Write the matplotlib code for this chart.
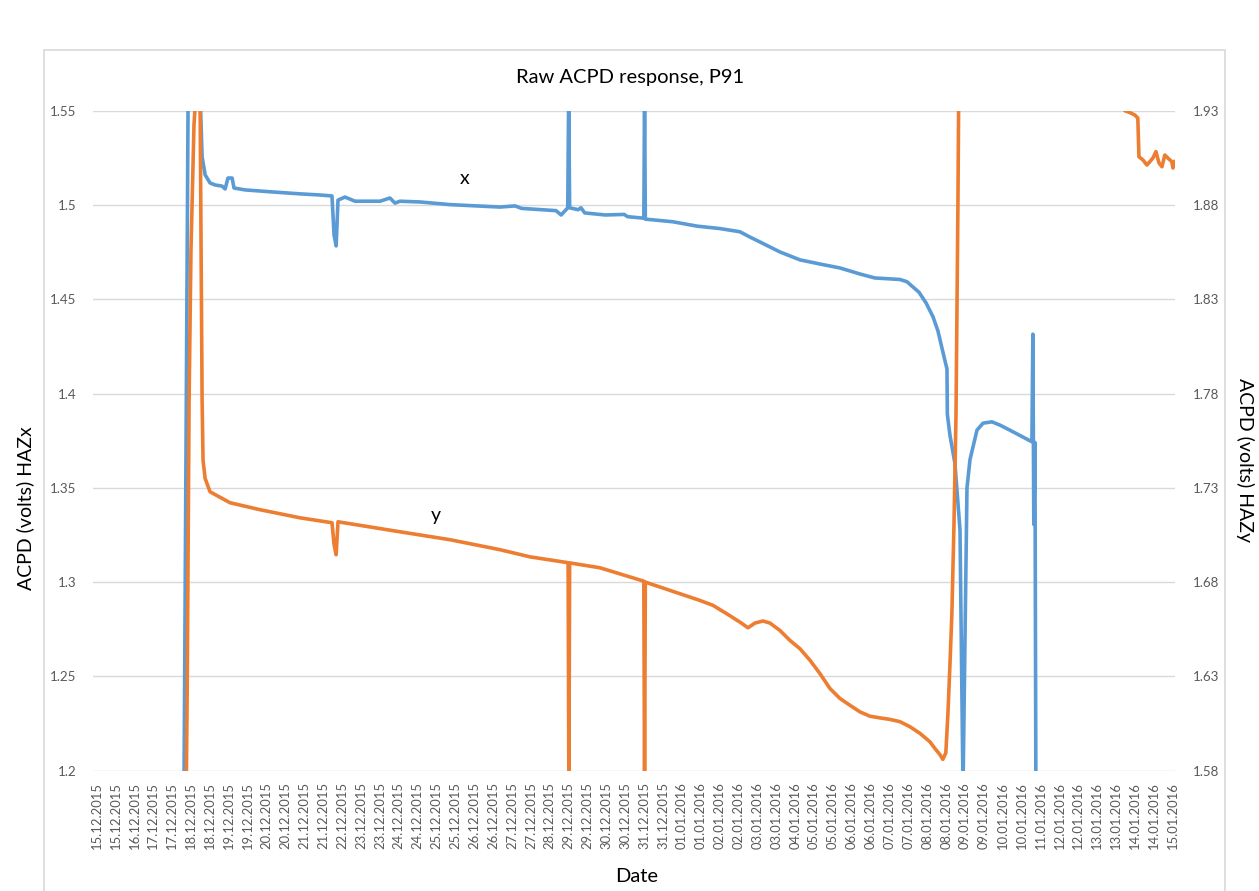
import numpy as np
import matplotlib
matplotlib.use("Agg")
import matplotlib.pyplot as plt
from matplotlib.patches import Rectangle

plt.rcParams['font.family'] = ['Lato', 'DejaVu Sans']

# category labels along the x axis (one per tick)
date_labels = ["15.12.2015", "15.12.2015", "16.12.2015", "17.12.2015", "17.12.2015",
               "18.12.2015", "18.12.2015", "19.12.2015", "19.12.2015", "20.12.2015",
               "20.12.2015", "21.12.2015", "21.12.2015", "22.12.2015", "23.12.2015",
               "23.12.2015", "24.12.2015", "24.12.2015", "25.12.2015", "25.12.2015",
               "26.12.2015", "26.12.2015", "27.12.2015", "27.12.2015", "28.12.2015",
               "29.12.2015", "29.12.2015", "30.12.2015", "30.12.2015", "31.12.2015",
               "31.12.2015", "01.01.2016", "01.01.2016", "02.01.2016", "02.01.2016",
               "03.01.2016", "03.01.2016", "04.01.2016", "05.01.2016", "05.01.2016",
               "06.01.2016", "06.01.2016", "07.01.2016", "07.01.2016", "08.01.2016",
               "08.01.2016", "09.01.2016", "09.01.2016", "10.01.2016", "10.01.2016",
               "11.01.2016", "12.01.2016", "12.01.2016", "13.01.2016", "13.01.2016",
               "14.01.2016", "14.01.2016", "15.01.2016"]

# HAZx (left axis), x in label-index units
x_pos = [4.62, 4.84, 5.47, 5.58, 5.68, 5.74, 6.00, 6.27, 6.64, 6.80, 6.95, 7.17, 7.27,
         7.85, 9.18, 10.77, 11.83, 12.46, 12.57, 12.68, 12.78, 13.15, 13.68, 15.01,
         15.53, 15.80, 16.06, 17.12, 18.71, 21.36, 22.16, 22.50, 24.33, 24.60, 24.95,
         25.00, 25.05, 25.50, 25.65, 25.85, 26.94, 27.94, 28.12, 28.98, 29.02, 29.06,
         30.52, 31.79, 33.01, 34.07, 34.60, 35.13, 36.19, 37.25, 38.31, 39.37, 40.43,
         41.22, 42.55, 42.92, 43.56, 43.93, 44.30, 44.56, 44.82, 45.04, 45.06, 45.20,
         45.46, 45.73, 45.89, 46.10, 46.26, 46.63, 46.95, 47.42, 47.84, 48.37, 48.90,
         49.43, 49.54, 49.59, 49.64, 49.70, 49.75]
x_val = [1.19, 1.56, 1.56, 1.5255, 1.5196, 1.516, 1.5117, 1.5106, 1.5100, 1.5085, 1.5143,
         1.5143, 1.509, 1.508, 1.507, 1.5059, 1.5053, 1.5048, 1.4841, 1.4783, 1.5026,
         1.5042, 1.502, 1.502, 1.5037, 1.501, 1.502, 1.5016, 1.5002, 1.4989, 1.4995,
         1.4982, 1.497, 1.4947, 1.4985, 1.56, 1.4985, 1.4975, 1.4985, 1.4958, 1.4947,
         1.4950, 1.4938, 1.4930, 1.56, 1.4925, 1.4911, 1.4888, 1.4875, 1.4858, 1.4830,
         1.4804, 1.4751, 1.4709, 1.4687, 1.4666, 1.4634, 1.4613, 1.4605, 1.4593, 1.4537,
         1.4481, 1.4407, 1.4333, 1.4222, 1.4130, 1.3890, 1.3778, 1.3630, 1.3278, 1.19,
         1.3500, 1.3650, 1.3806, 1.3843, 1.3850, 1.3833, 1.3806, 1.3778, 1.3750, 1.3745,
         1.4315, 1.3306, 1.3740, 1.19]

# HAZy (right axis)
y_pos = [4.74, 4.79, 4.89, 4.99, 5.15, 5.26, 5.47, 5.58, 5.63, 5.74, 6.00, 7.06, 8.65,
         10.77, 12.46, 12.57, 12.68, 12.78, 16.06, 18.71, 21.36, 22.95, 24.97, 25.01,
         25.05, 26.66, 28.98, 29.02, 29.06, 31.95, 32.64, 33.38, 34.07, 34.50, 34.87,
         35.29, 35.66, 36.19, 36.72, 37.25, 37.78, 38.31, 38.84, 39.37, 39.90, 40.43,
         40.96, 41.49, 42.02, 42.55, 43.08, 43.61, 44.14, 44.40, 44.67, 44.82, 44.98,
         45.09, 45.20, 45.30, 45.41, 45.52, 45.62, 45.67, 54.20, 54.46, 54.73, 54.99,
         55.15, 55.21, 55.42, 55.63, 55.79, 55.95, 56.11, 56.27, 56.43, 56.58, 56.74,
         56.95, 57.01, 57.11]
y_val = [1.57, 1.6226, 1.7764, 1.856, 1.9224, 1.94, 1.94, 1.7764, 1.7446, 1.735, 1.7279,
         1.7221, 1.7184, 1.7141, 1.7115, 1.700, 1.6945, 1.712, 1.7067, 1.7025, 1.6972,
         1.6934, 1.6903, 1.57, 1.6902, 1.6876, 1.6805, 1.57, 1.680, 1.6703, 1.6677,
         1.6632, 1.6588, 1.6558, 1.6583, 1.6594, 1.6583, 1.6544, 1.6491, 1.6447, 1.6386,
         1.6315, 1.6236, 1.6183, 1.6147, 1.6112, 1.6089, 1.6080, 1.6072, 1.6060, 1.6033,
         1.5998, 1.5953, 1.5918, 1.5885, 1.5860, 1.5895, 1.6103, 1.6368, 1.6632, 1.710,
         1.770, 1.880, 1.95, 1.95, 1.930, 1.929, 1.9277, 1.9261, 1.9056, 1.9039, 1.9012,
         1.9030, 1.9049, 1.9083, 1.9023, 1.9003, 1.9065, 1.9049, 1.9030, 1.8996, 1.9030]

left_ticks = [1.2, 1.25, 1.3, 1.35, 1.4, 1.45, 1.5, 1.55]
right_ticks = [1.58, 1.63, 1.68, 1.73, 1.78, 1.83, 1.88, 1.93]

W, H = 1259, 891
fig = plt.figure(figsize=(W / 100, H / 100), dpi=100)
ax = fig.add_axes([93 / W, 1 - 770.7 / H, (1175 - 93) / W, 660 / H])
ax2 = ax.twinx()

ax.plot(x_pos, x_val, color='#5B9BD5', lw=2.6, solid_joinstyle='round')
ax2.plot(y_pos, y_val, color='#ED7D31', lw=2.6, solid_joinstyle='round')

ax.set_xlim(-0.2, 57.12)
ax.set_ylim(1.2, 1.55)
ax2.set_ylim(1.58, 1.93)

ax.set_yticks(left_ticks)
ax.set_yticklabels([f"{v:g}" for v in left_ticks])
ax2.set_yticks(right_ticks)
ax2.set_yticklabels([f"{v:g}" for v in right_ticks])
ax.set_xticks(range(len(date_labels)))
ax.set_xticklabels(date_labels, rotation=90)

ax.yaxis.grid(True, color='#d9d9d9', lw=1)
ax.set_axisbelow(True)
for a in (ax, ax2):
    for s in a.spines.values():
        s.set_visible(False)
ax.tick_params(axis='y', length=0, pad=12, labelsize=9.6, labelcolor='#595959')
ax2.tick_params(axis='y', length=0, pad=13, labelsize=9.6, labelcolor='#595959')
ax.tick_params(axis='x', length=0, pad=8, labelsize=9.4, labelcolor='#595959')

ax.text(19.5, 1.5143, "x", fontsize=14, ha='center', va='center')
ax.text(17.97, 1.3352, "y", fontsize=14, ha='center', va='center')

fig.text(630 / W, 1 - 77 / H, "Raw ACPD response, P91", fontsize=14.5, ha='center', va='center')
fig.text(637 / W, 1 - 877 / H, "Date", fontsize=14.5, ha='center', va='center')
fig.text(25 / W, 1 - 508 / H, "ACPD (volts) HAZx", fontsize=14, rotation=90,
         ha='center', va='center')
fig.text(1245 / W, 1 - 460 / H, "ACPD (volts) HAZy", fontsize=14, rotation=-90,
         ha='center', va='center')

fig.add_artist(Rectangle((44 / W, -0.01), (1225 - 44) / W, (891 - 50) / H + 0.01,
                         transform=fig.transFigure, fill=False, ec='#d9d9d9', lw=1.2))

fig.savefig("out.png", dpi=100)
